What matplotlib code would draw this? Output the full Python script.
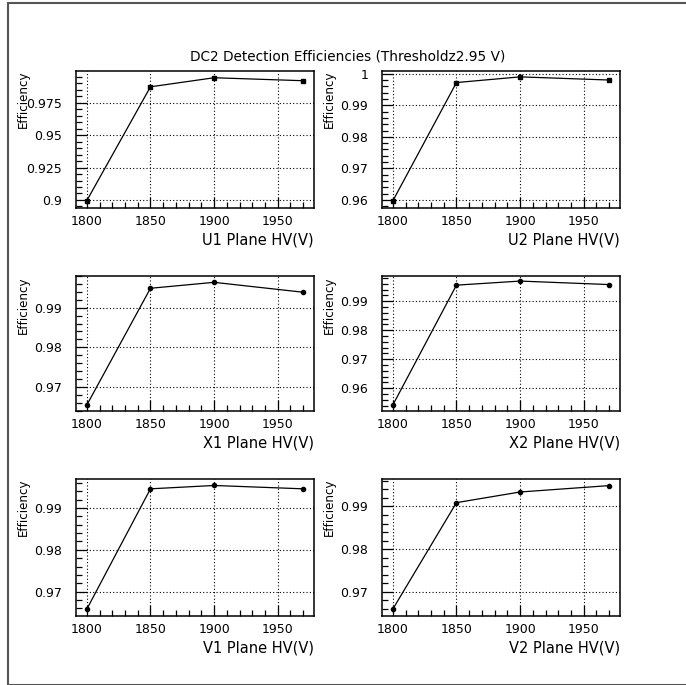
import matplotlib
matplotlib.use("Agg")
import matplotlib.pyplot as plt
from matplotlib.ticker import MultipleLocator, FuncFormatter
from matplotlib.patches import Rectangle

# high voltage settings (V)
hv = [1800, 1850, 1900, 1970]

planes = ["U1", "U2", "X1", "X2", "V1", "V2"]

eff_u1 = [0.8995, 0.9873, 0.9943, 0.9920]
eff_u2 = [0.9597, 0.9972, 0.9990, 0.9980]
eff_x1 = [0.9654, 0.9949, 0.9964, 0.9939]
eff_x2 = [0.9542, 0.9955, 0.9969, 0.9957]
eff_v1 = [0.9658, 0.9946, 0.9954, 0.9946]
eff_v2 = [0.9659, 0.9909, 0.9934, 0.9949]

err_u1 = [0.0008, 0.0004, 0.0003, 0.0003]
err_u2 = [0.0005, 0.0003, 0.0002, 0.0002]
err_x1 = [0.0004, 0.0003, 0.0002, 0.0004]
err_x2 = [0.0004, 0.0003, 0.0002, 0.0002]
err_v1 = [0.0004, 0.0003, 0.0002, 0.0003]
err_v2 = [0.0004, 0.0004, 0.0003, 0.0004]

effs = [eff_u1, eff_u2, eff_x1, eff_x2, eff_v1, eff_v2]
errs = [err_u1, err_u2, err_x1, err_x2, err_v1, err_v2]

# y ranges and major tick steps per panel
ylims = [(0.8938, 0.9995), (0.95744, 1.00086), (0.9639, 0.9980),
         (0.95215, 0.99865), (0.96417, 0.99695), (0.96428, 0.99645)]
ysteps = [0.025, 0.01, 0.01, 0.01, 0.01, 0.01]

plt.rcParams["font.family"] = "DejaVu Sans"
plt.rcParams["font.size"] = 9

fig = plt.figure(figsize=(6.86, 6.85), dpi=100)

W, H = 686.0, 685.0
cols = [76, 382]
rows = [(71, 208), (276, 411), (479, 616)]
aw = 238

fig.patches.append(Rectangle((8 / W, 0.5 / H), 1.0, 1 - 3.5 / H, transform=fig.transFigure,
                             fill=False, edgecolor="#555555", linewidth=1.5))

fig.text(348 / W, 1 - 57 / H, "DC2 Detection Efficiencies (Thresholdz2.95 V)",
         ha="center", va="center", fontsize=9.8)

for i, name in enumerate(planes):
    r, c = divmod(i, 2)
    top, bot = rows[r]
    ax = fig.add_axes([cols[c] / W, 1 - bot / H, aw / W, (bot - top) / H])
    ax.errorbar(hv, effs[i], yerr=errs[i], color="black", linewidth=0.9,
                marker="s" if r == 0 else "o", markersize=3, capsize=0,
                elinewidth=0.9)
    ax.set_xlim(1791.5, 1978.5)
    ax.set_ylim(*ylims[i])
    ax.xaxis.set_major_locator(MultipleLocator(50))
    ax.xaxis.set_minor_locator(MultipleLocator(10))
    ax.yaxis.set_major_locator(MultipleLocator(ysteps[i]))
    ax.yaxis.set_minor_locator(MultipleLocator(ysteps[i] / 5))
    ax.yaxis.set_major_formatter(FuncFormatter(lambda v, p: "%g" % round(v, 4)))
    ax.tick_params(which="both", direction="in", top=False, right=False, width=0.9)
    ax.tick_params(axis="x", which="major", length=8, pad=5)
    ax.tick_params(axis="y", which="major", length=8, pad=10)
    ax.tick_params(which="minor", length=4)
    ax.grid(True, which="major", color="black", linestyle=(0, (1, 2)), linewidth=0.8)
    for sp in ax.spines.values():
        sp.set_linewidth(1.1)
    ax.set_xlabel(name + " Plane HV(V)", fontsize=10.5)
    ax.xaxis.label.set_ha("right")
    ax.xaxis.label.set_va("center")
    ax.xaxis.set_label_coords(1.0, -32 / (bot - top))
    ax.set_ylabel("Efficiency", fontsize=8.6)
    ax.yaxis.label.set_rotation_mode("anchor")
    ax.yaxis.label.set_ha("right")
    ax.yaxis.label.set_va("center")
    ax.yaxis.set_label_coords(-53 / aw, 1.0)

fig.savefig("out.png", dpi=100)
